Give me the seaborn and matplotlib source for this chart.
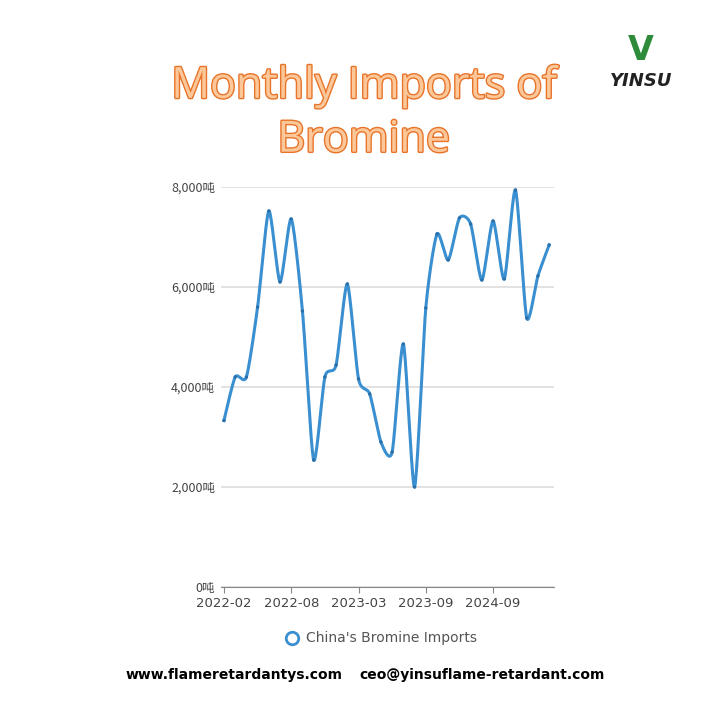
import numpy as np
import pandas as pd
import seaborn as sns
import matplotlib
matplotlib.use("Agg")
import matplotlib.pyplot as plt
import matplotlib.patheffects as pe
from matplotlib import font_manager as fm

cjk = None
for name in ["Noto Sans CJK SC", "Noto Sans CJK JP", "Noto Sans CJK TC", "Noto Sans CJK KR"]:
    try:
        fm.findfont(fm.FontProperties(family=name), fallback_to_default=False)
        cjk = name
        break
    except Exception:
        pass

months = ["2022-02","2022-03","2022-04","2022-05","2022-06","2022-07","2022-08","2022-09","2022-10",
          "2022-11","2022-12","2023-01","2023-03","2023-04","2023-05","2023-06","2023-07","2023-08",
          "2023-09","2023-10","2023-11","2023-12","2024-03","2024-05","2024-09","2024-10","2024-11",
          "2024-12","2025-01","2025-02"]
imports = [3330,4200,4200,5600,7520,6100,7360,5520,2540,4200,4440,6060,4160,3860,2900,
           2700,4860,2000,5580,7060,6540,7380,7260,6140,7320,6160,7940,5380,6220,6840]
tick_idx = [0,6,12,18,24]
tick_labels = ["2022-02","2022-08","2023-03","2023-09","2024-09"]
yticks = [0,2000,4000,6000,8000]
series_name = "China's Bromine Imports"

def catmull(x, y, n=20, tension=0.35):
    x = np.asarray(x, float); y = np.asarray(y, float)
    px = np.concatenate([[x[0]], x, [x[-1]]]); py = np.concatenate([[y[0]], y, [y[-1]]])
    ox, oy = [], []
    for i in range(1, len(px)-2):
        t = np.linspace(0, 1, n, endpoint=False)
        h00 = 2*t**3-3*t**2+1; h10 = t**3-2*t**2+t; h01 = -2*t**3+3*t**2; h11 = t**3-t**2
        for p, o in ((px, ox), (py, oy)):
            m1 = tension*(p[i+1]-p[i-1]); m2 = tension*(p[i+2]-p[i])
            o.extend(h00*p[i] + h10*m1 + h01*p[i+1] + h11*m2)
    ox.append(x[-1]); oy.append(y[-1])
    return np.array(ox), np.array(oy)

idx = np.arange(len(imports))
sx, sy = catmull(idx, imports)
smooth = pd.DataFrame({"x": sx, "y": sy})
pts = pd.DataFrame({"x": idx, "y": imports})

blue = "#3a8fd0"
fig = plt.figure(figsize=(7.2, 7.2), dpi=100)
ax = fig.add_axes([0.3064, 0.1847, 0.4625, 0.5556])
sns.lineplot(data=smooth, x="x", y="y", ax=ax, color=blue, lw=2.2, sort=False)
sns.scatterplot(data=pts, x="x", y="y", ax=ax, color="#2a6fa8", s=6, edgecolor="none", zorder=3)
ax.set_xlim(-0.3, 29.4)
ax.set_ylim(0, 8000)
ax.set_yticks(yticks)
ax.set_yticklabels([f"{v:,}吨" for v in yticks], fontsize=9, color="#444",
                   fontfamily=cjk or "DejaVu Sans")
ax.set_xticks(tick_idx)
ax.set_xticklabels(tick_labels, fontsize=9.5, color="#444")
ax.set_xlabel(""); ax.set_ylabel("")
ax.grid(axis="y", color="#dddddd", lw=1.2)
ax.set_axisbelow(True)
for s in ["top", "right", "left"]:
    ax.spines[s].set_visible(False)
ax.spines["bottom"].set_color("#888")
ax.tick_params(axis="y", length=0, pad=4)
ax.tick_params(axis="x", length=4, color="#888")

oe = [pe.withStroke(linewidth=2, foreground="#e8742a")]
for txt, yy in (("Monthly Imports of", 0.88), ("Bromine", 0.805)):
    fig.text(0.505, yy, txt, ha="center", va="center", fontsize=31,
             color="#fcc89a", path_effects=oe, fontfamily="Open Sans")

fig.text(0.89, 0.888, "YINSU", ha="center", va="center", fontsize=13, fontweight="bold",
         style="italic", color="#222")
fig.text(0.89, 0.93, "V", ha="center", va="center", fontsize=24, fontweight="bold", color="#2e8b3a")

fig.add_artist(plt.Line2D([0.405], [0.114], marker="o", markersize=9, markerfacecolor="white",
                          markeredgecolor=blue, markeredgewidth=2, transform=fig.transFigure))
fig.text(0.425, 0.114, series_name, ha="left", va="center", fontsize=10, color="#555")

fig.text(0.325, 0.062, "www.flameretardantys.com", ha="center", va="center", fontsize=10, fontweight="bold")
fig.text(0.67, 0.062, "ceo@yinsuflame-retardant.com", ha="center", va="center", fontsize=10, fontweight="bold")
fig.savefig("out.png", dpi=100, facecolor="white")
